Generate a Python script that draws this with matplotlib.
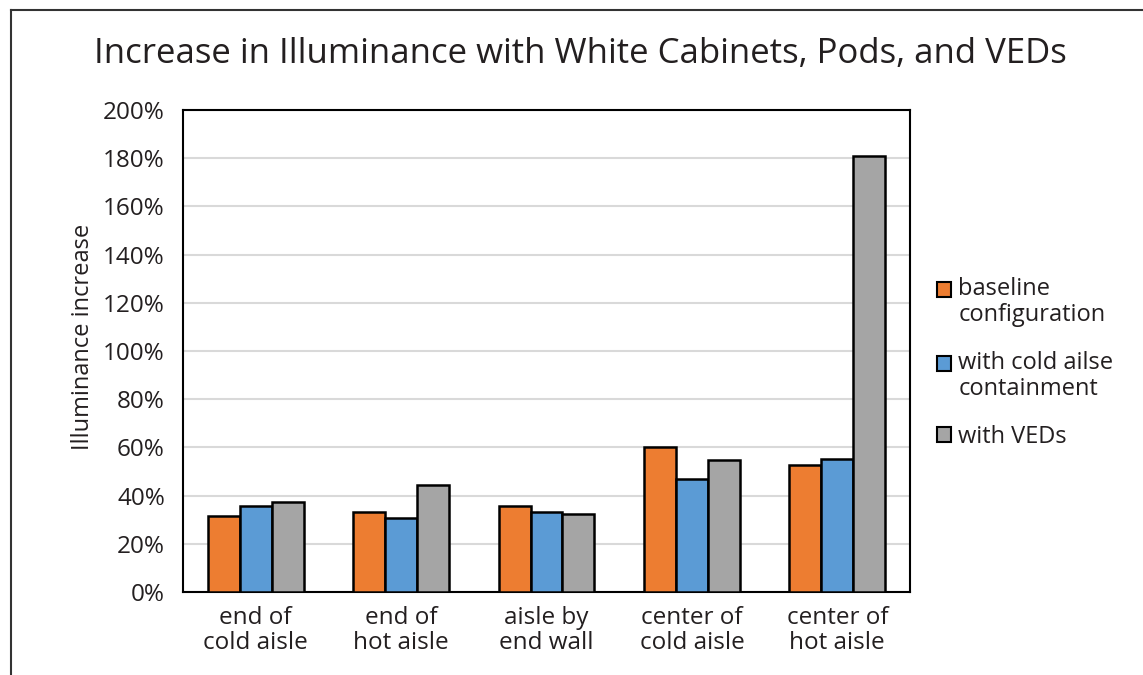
import numpy as np
import matplotlib
matplotlib.use('Agg')
import matplotlib.pyplot as plt
from matplotlib.lines import Line2D
from matplotlib.patches import Rectangle
from matplotlib.container import BarContainer
from matplotlib.legend_handler import HandlerPatch, update_from_first_child

plt.rcParams['font.family'] = ['Open Sans', 'DejaVu Sans']

# data
categories = ['end of\ncold aisle', 'end of\nhot aisle', 'aisle by\nend wall',
              'center of\ncold aisle', 'center of\nhot aisle']
baseline = [31.5, 33, 35.6, 60.3, 52.8]
cold_containment = [35.6, 30.8, 33, 47, 55.3]
veds = [37.3, 44.5, 32.2, 54.7, 181]
series_names = ['baseline\nconfiguration', 'with cold ailse\ncontainment', 'with VEDs']
colors = ['#ed7d31', '#5b9bd5', '#a5a5a5']

fig = plt.figure(figsize=(11.43, 6.75), dpi=100)
ax = fig.add_axes([183 / 1143, 1 - 592 / 675, 727 / 1143, 482 / 675])

x = np.arange(len(categories))
w = 0.22
for i, (vals, name, c) in enumerate(zip([baseline, cold_containment, veds], series_names, colors)):
    ax.bar(x + (i - 1) * w, vals, w, color=c, edgecolor='black', linewidth=1.8,
           label=name, zorder=3)

ax.set_xlim(-0.5, len(categories) - 0.5)
ax.set_ylim(0, 200)
ax.set_yticks(range(0, 201, 20))
ax.set_yticklabels(['%d%%' % v for v in range(0, 201, 20)])
ax.set_xticks(x)
ax.set_xticklabels(categories, linespacing=1.05)
ax.tick_params(axis='both', length=0, labelsize=17.5, colors='#231f20')
ax.tick_params(axis='y', pad=13)
ax.tick_params(axis='x', pad=10)
ax.yaxis.grid(True, color='#d9d9d9', linewidth=1.5, zorder=0)
for s in ax.spines.values():
    s.set_linewidth(1.5)
    s.set_color('black')

ax.set_ylabel('Illuminance increase', fontsize=17, color='#231f20')
ax.yaxis.set_label_coords(-0.121, 0.529)

fig.text(0.508, 1 - 54 / 675, 'Increase in Illuminance with White Cabinets, Pods, and VEDs',
         ha='center', va='center', fontsize=25, color='#231f20')


# legend square sits next to the first line of a two-line label
def top_square(legend, orig_handle, xdescent, ydescent, width, height, fontsize):
    shift = 9.5 if '\n' in orig_handle.get_label() else 0
    return Rectangle((-xdescent, -ydescent + shift), width, height)


def style_square(legend_handle, orig_handle):
    update_from_first_child(legend_handle, orig_handle)
    legend_handle.set_linewidth(1.5)


leg = ax.legend(loc='center left', bbox_to_anchor=(1.008, 0.475), frameon=False,
                fontsize=17, handlelength=0.6, handleheight=0.6, handletextpad=0.3,
                labelspacing=1.0,
                handler_map={BarContainer: HandlerPatch(patch_func=top_square,
                                                        update_func=style_square)})
for t in leg.get_texts():
    t.set_color('#231f20')
    t.set_linespacing(1.12)

# outer border (top and left only)
fig.add_artist(Line2D([11 / 1143, 11 / 1143], [0, 1 - 10 / 675], color='#333333', linewidth=1.5))
fig.add_artist(Line2D([11 / 1143, 1], [1 - 10 / 675, 1 - 10 / 675], color='#333333', linewidth=1.5))

fig.savefig('out.png', dpi=100)
